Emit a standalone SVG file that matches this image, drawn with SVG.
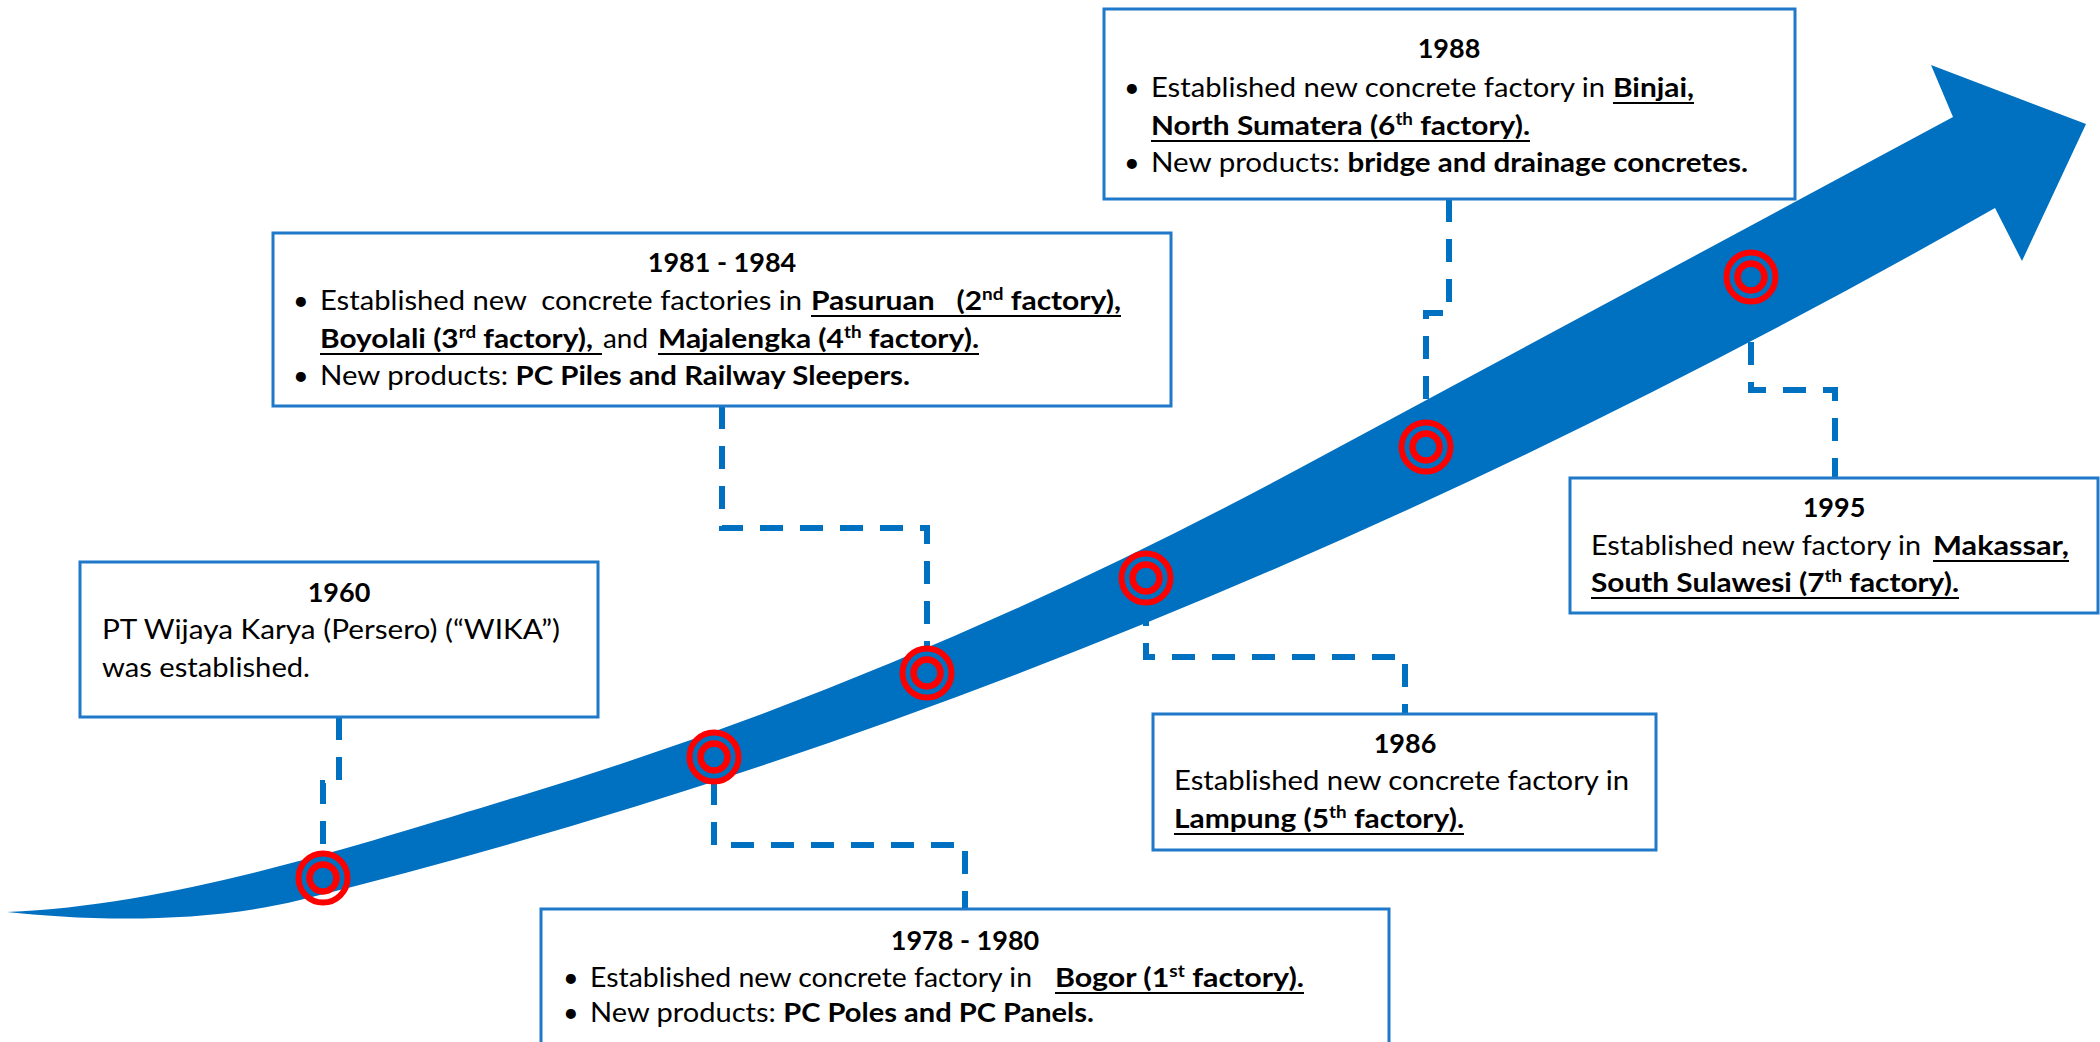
<svg xmlns="http://www.w3.org/2000/svg" width="2100" height="1042" viewBox="0 0 2100 1042">
<style>
.box{fill:#fff;stroke:#1F78C8;stroke-width:3}
.t{font-family:Lato,'Liberation Sans',sans-serif;font-size:27px;fill:#000;white-space:pre}
.h{font-weight:700;text-anchor:middle}
.b{font-weight:700}
.sup{font-size:17px}
.und{stroke:#000;stroke-width:2.2}
.conn{fill:none;stroke:#0070C0;stroke-width:6;stroke-dasharray:23 17}
.ring{fill:none;stroke:#FF0000}
</style>
<defs>
<g id="target"><circle class="ring" r="24.5" stroke-width="6"/><circle class="ring" r="13.5" stroke-width="6.5"/></g>
</defs>
<rect width="2100" height="1042" fill="#fff"/>
<path id="arrow" fill="#0070C0" d="M7,912 C180,905 380,838 520,796 Q910,678 1300,468 L1953,117 L1931,65 L2086,124 L2022,261 L1995,208 Q1147,691 300,900 C200,925 80,920 7,912 Z"/>
<g id="connectors">
<path class="conn" d="M339,717 V783 H323 V852"/>
<path class="conn" d="M714,782 V845 H965 V909"/>
<path class="conn" d="M722,406 V528 H927 V648"/>
<path class="conn" d="M1146,603 V657 H1405 V714"/>
<path class="conn" d="M1449,199 V313 H1426 V422"/>
<path class="conn" d="M1751,302 V390 H1835 V478"/>
</g>
<g id="markers">
<use href="#target" x="323" y="878"/>
<use href="#target" x="714" y="757"/>
<use href="#target" x="927" y="673"/>
<use href="#target" x="1146" y="578"/>
<use href="#target" x="1426" y="447"/>
<use href="#target" x="1751" y="277"/>
</g>
<g id="n1960">
<rect class="box" x="80" y="562" width="518" height="155"/>
<text class="t h" x="339" y="602">1960</text>
<text class="t" x="102" y="639" textLength="458" lengthAdjust="spacingAndGlyphs">PT Wijaya Karya (Persero) (“WIKA”)</text>
<text class="t" x="102" y="677" textLength="208" lengthAdjust="spacingAndGlyphs">was established.</text>
</g>
<g id="n1978">
<rect class="box" x="541" y="909" width="848" height="150"/>
<text class="t h" x="965" y="950">1978 - 1980</text>
<text class="t" x="563" y="987">•</text>
<text class="t" x="590" y="987" textLength="442" lengthAdjust="spacingAndGlyphs">Established new concrete factory in</text>
<text class="t b" x="1055" y="987" textLength="249" lengthAdjust="spacingAndGlyphs">Bogor (1<tspan class="sup" baseline-shift="super">st</tspan> factory).</text>
<line class="und" x1="1055" y1="993" x2="1304" y2="993"/>
<text class="t" x="563" y="1022">•</text>
<text class="t" x="590" y="1022" textLength="504" lengthAdjust="spacingAndGlyphs">New products: <tspan class="b">PC Poles and PC Panels.</tspan></text>
</g>
<g id="n1981">
<rect class="box" x="273" y="233" width="898" height="173"/>
<text class="t h" x="722" y="272">1981 - 1984</text>
<text class="t" x="293" y="310">•</text>
<text class="t" x="320" y="310" textLength="482" lengthAdjust="spacingAndGlyphs">Established new  concrete factories in</text>
<text class="t b" x="811" y="310" textLength="310" lengthAdjust="spacingAndGlyphs">Pasuruan   (2<tspan class="sup" baseline-shift="super">nd</tspan> factory),</text>
<line class="und" x1="811" y1="316" x2="1121" y2="316"/>
<text class="t b" x="320" y="348" textLength="273" lengthAdjust="spacingAndGlyphs">Boyolali (3<tspan class="sup" baseline-shift="super">rd</tspan> factory),</text>
<line class="und" x1="320" y1="354" x2="602" y2="354"/>
<text class="t" x="603" y="348" textLength="45" lengthAdjust="spacingAndGlyphs">and</text>
<text class="t b" x="658" y="348" textLength="321" lengthAdjust="spacingAndGlyphs">Majalengka (4<tspan class="sup" baseline-shift="super">th</tspan> factory).</text>
<line class="und" x1="658" y1="354" x2="979" y2="354"/>
<text class="t" x="293" y="385">•</text>
<text class="t" x="320" y="385" textLength="590" lengthAdjust="spacingAndGlyphs">New products: <tspan class="b">PC Piles and Railway Sleepers.</tspan></text>
</g>
<g id="n1986">
<rect class="box" x="1153" y="714" width="503" height="136"/>
<text class="t h" x="1405" y="753">1986</text>
<text class="t" x="1174" y="790" textLength="455" lengthAdjust="spacingAndGlyphs">Established new concrete factory in</text>
<text class="t b" x="1174" y="828" textLength="290" lengthAdjust="spacingAndGlyphs">Lampung (5<tspan class="sup" baseline-shift="super">th</tspan> factory).</text>
<line class="und" x1="1174" y1="834" x2="1464" y2="834"/>
</g>
<g id="n1988">
<rect class="box" x="1104" y="9" width="691" height="190"/>
<text class="t h" x="1449" y="58">1988</text>
<text class="t" x="1124" y="97">•</text>
<text class="t" x="1151" y="97" textLength="454" lengthAdjust="spacingAndGlyphs">Established new concrete factory in</text>
<text class="t b" x="1613" y="97" textLength="81" lengthAdjust="spacingAndGlyphs">Binjai,</text>
<line class="und" x1="1613" y1="103" x2="1694" y2="103"/>
<text class="t b" x="1151" y="135" textLength="379" lengthAdjust="spacingAndGlyphs">North Sumatera (6<tspan class="sup" baseline-shift="super">th</tspan> factory).</text>
<line class="und" x1="1151" y1="141" x2="1530" y2="141"/>
<text class="t" x="1124" y="172">•</text>
<text class="t" x="1151" y="172" textLength="597" lengthAdjust="spacingAndGlyphs">New products: <tspan class="b">bridge and drainage concretes.</tspan></text>
</g>
<g id="n1995">
<rect class="box" x="1570" y="478" width="528" height="135"/>
<text class="t h" x="1834" y="517">1995</text>
<text class="t" x="1591" y="555" textLength="330" lengthAdjust="spacingAndGlyphs">Established new factory in</text>
<text class="t b" x="1933" y="555" textLength="136" lengthAdjust="spacingAndGlyphs">Makassar,</text>
<line class="und" x1="1933" y1="561" x2="2069" y2="561"/>
<text class="t b" x="1591" y="592" textLength="368" lengthAdjust="spacingAndGlyphs">South Sulawesi (7<tspan class="sup" baseline-shift="super">th</tspan> factory).</text>
<line class="und" x1="1591" y1="598" x2="1959" y2="598"/>
</g>
</svg>
